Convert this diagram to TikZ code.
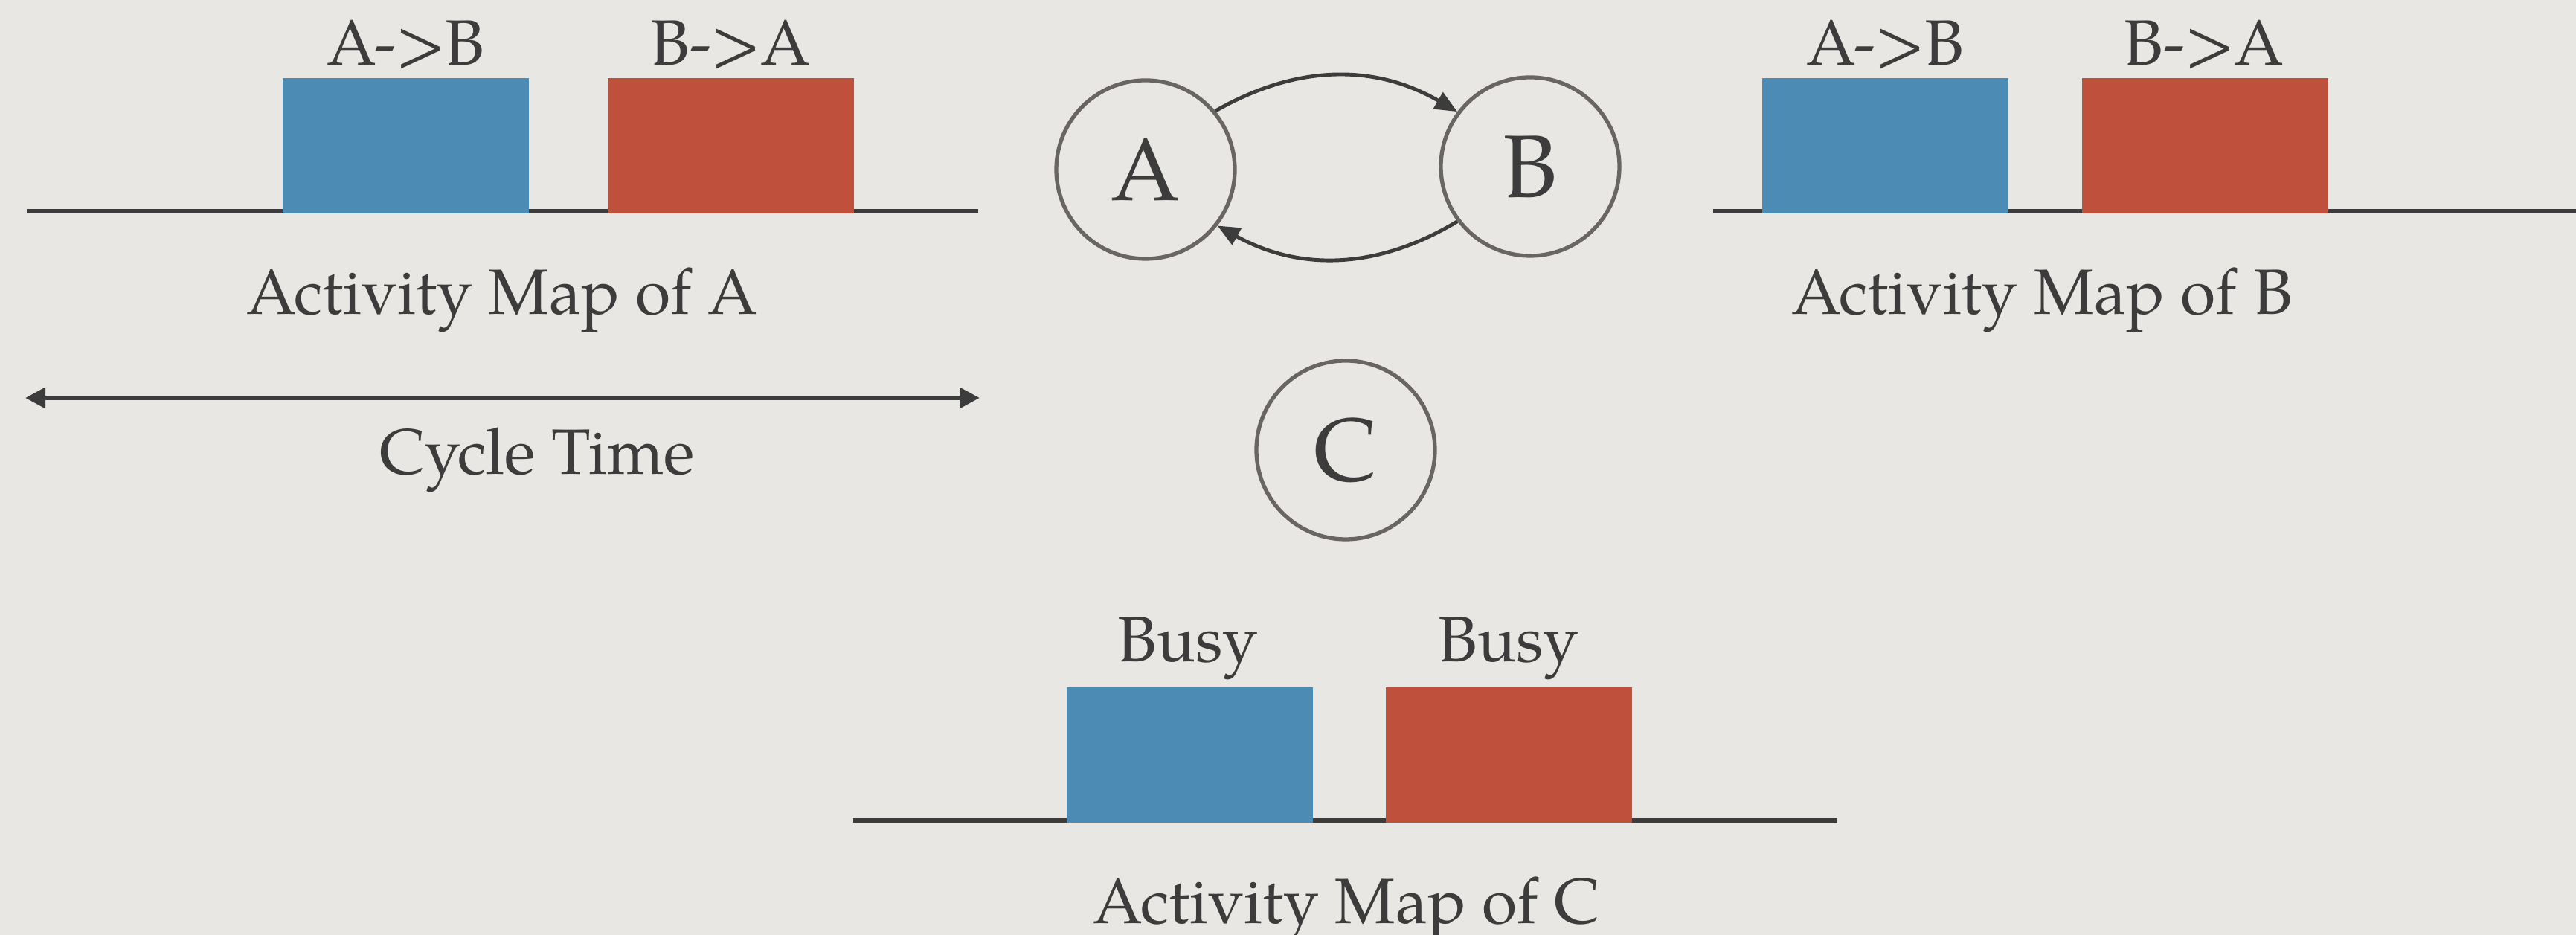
\documentclass[tikz,border=0pt]{standalone}
\usepackage{fontspec}
\setmainfont{TeX Gyre Pagella}
\usetikzlibrary{arrows.meta}
\definecolor{paper}{RGB}{233,231,227}
\definecolor{ink}{RGB}{60,60,60}
\definecolor{ring}{RGB}{104,101,98}
\definecolor{boxblue}{RGB}{76,139,180}
\definecolor{boxred}{RGB}{191,80,60}
\tikzset{
  axis/.style={draw=ink, line width=1.8pt},
  bluebox/.style={fill=boxblue, draw=none, inner sep=0pt, minimum width=3.31cm, minimum height=1.82cm, anchor=south west},
  redbox/.style={fill=boxred, draw=none, inner sep=0pt, minimum width=3.31cm, minimum height=1.82cm, anchor=south west},
  lbl/.style={text=ink, inner sep=0pt, anchor=base, font=\fontsize{24.5}{28}\selectfont},
  state/.style={circle, draw=ring, line width=1.5pt, minimum size=2.4cm, inner sep=0pt, text=ink, font=\fontsize{34}{38}\selectfont},
  flow/.style={draw=ink, line width=1.4pt, -{Triangle[length=0.3cm,width=0.25cm]}},
}
\begin{document}
\begin{tikzpicture}
\fill[paper] (0,0) rectangle (34.63,12.57);
\useasboundingbox (0,0) rectangle (34.63,12.57);

% Activity map of A
\coordinate (la1) at (0.36,9.73);
\coordinate (la2) at (13.15,9.73);
\draw[axis] (la1) -- (la2);
\node[bluebox] (ab1) at (3.79,9.69) {};
\node[redbox] (ba1) at (8.16,9.69) {};
\node[lbl] (tab1) at (5.45,11.69) {A->B};
\node[lbl] (tba1) at (9.82,11.69) {B->A};
\node[lbl] (mapa) at (6.75,8.34) {Activity Map of A};

% Cycle time
\coordinate (ct1) at (0.34,7.22);
\coordinate (ct2) at (13.17,7.22);
\draw[draw=ink, line width=1.8pt, {Triangle[length=0.27cm,width=0.27cm]}-{Triangle[length=0.27cm,width=0.27cm]}] (ct1) -- (ct2);
\node[lbl] (cyc) at (7.22,6.19) {Cycle Time};

% Activity map of B
\coordinate (lb1) at (23.03,9.73);
\coordinate (lb2) at (34.63,9.73);
\draw[axis] (lb1) -- (lb2);
\node[bluebox] (ab2) at (23.68,9.69) {};
\node[redbox] (ba2) at (27.98,9.69) {};
\node[lbl] (tab2) at (25.34,11.69) {A->B};
\node[lbl] (tba2) at (29.63,11.69) {B->A};
\node[lbl] (mapb) at (27.45,8.34) {Activity Map of B};

% States
\node[state] (A) at (15.40,10.29) {A};
\node[state] (B) at (20.57,10.33) {B};
\node[state] (C) at (18.09,6.52) {C};
\draw[flow] (A.40) to[bend left=30] (B.143);
\draw[flow] (B.217) to[bend left=30] (A.-38);

% Activity map of C
\coordinate (lc1) at (11.47,1.54);
\coordinate (lc2) at (24.70,1.54);
\draw[axis] (lc1) -- (lc2);
\node[bluebox] (bc1) at (14.33,1.50) {};
\node[redbox] (bc2) at (18.62,1.50) {};
\node[lbl] (busy1) at (15.97,3.67) {Busy};
\node[lbl] (busy2) at (20.28,3.67) {Busy};
\node[lbl] (mapc) at (18.10,0.15) {Activity Map of C};
\end{tikzpicture}
\end{document}
